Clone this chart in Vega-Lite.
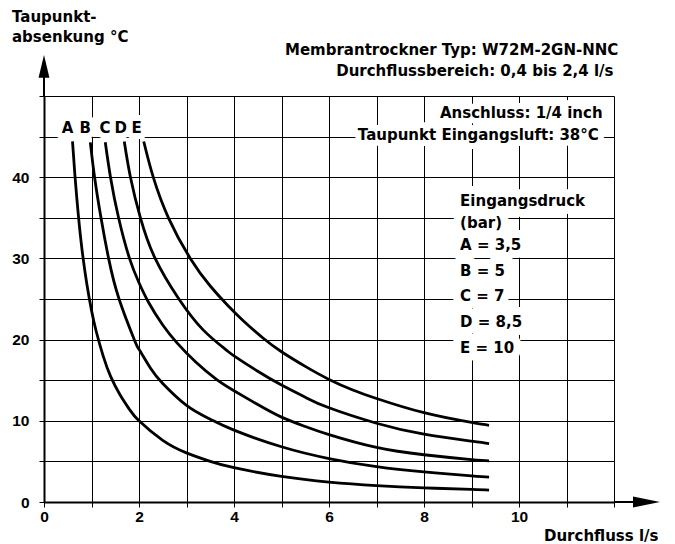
{
  "$schema": "https://vega.github.io/schema/vega-lite/v6.json",
  "width": 570,
  "height": 406,
  "autosize": {"type": "none"},
  "padding": {"left": 44, "top": 96, "right": 61, "bottom": 42},
  "background": "white",
  "config": {"view": {"stroke": null}},
  "datasets": {
    "curves": [
      {"curve": "A", "x": 0.6, "y": 44.4}, {"curve": "A", "x": 0.65, "y": 40.3}, {"curve": "A", "x": 0.72, "y": 35.5}, {"curve": "A", "x": 0.8, "y": 31.1}, {"curve": "A", "x": 0.9, "y": 26.9}, {"curve": "A", "x": 1.0, "y": 23.6}, {"curve": "A", "x": 1.1, "y": 21.0}, {"curve": "A", "x": 1.25, "y": 17.9}, {"curve": "A", "x": 1.4, "y": 15.5}, {"curve": "A", "x": 1.6, "y": 13.2}, {"curve": "A", "x": 1.8, "y": 11.4}, {"curve": "A", "x": 2.0, "y": 10.0}, {"curve": "A", "x": 2.5, "y": 7.6}, {"curve": "A", "x": 3.0, "y": 6.05}, {"curve": "A", "x": 3.5, "y": 5.0}, {"curve": "A", "x": 4.0, "y": 4.22}, {"curve": "A", "x": 5.0, "y": 3.15}, {"curve": "A", "x": 6.0, "y": 2.45}, {"curve": "A", "x": 7.0, "y": 2.02}, {"curve": "A", "x": 8.0, "y": 1.74}, {"curve": "A", "x": 9.0, "y": 1.55}, {"curve": "A", "x": 9.37, "y": 1.47},
      {"curve": "B", "x": 0.975, "y": 44.3}, {"curve": "B", "x": 1.065, "y": 40}, {"curve": "B", "x": 1.2, "y": 35}, {"curve": "B", "x": 1.36, "y": 30}, {"curve": "B", "x": 1.58, "y": 25}, {"curve": "B", "x": 1.9, "y": 20}, {"curve": "B", "x": 2.0, "y": 18.8}, {"curve": "B", "x": 2.25, "y": 16.4}, {"curve": "B", "x": 2.5, "y": 14.6}, {"curve": "B", "x": 3.0, "y": 11.9}, {"curve": "B", "x": 3.5, "y": 10.2}, {"curve": "B", "x": 4.0, "y": 8.85}, {"curve": "B", "x": 5.0, "y": 6.8}, {"curve": "B", "x": 6.0, "y": 5.35}, {"curve": "B", "x": 7.0, "y": 4.35}, {"curve": "B", "x": 8.0, "y": 3.7}, {"curve": "B", "x": 9.0, "y": 3.22}, {"curve": "B", "x": 9.37, "y": 3.07},
      {"curve": "C", "x": 1.29, "y": 44.3}, {"curve": "C", "x": 1.4, "y": 40}, {"curve": "C", "x": 1.57, "y": 35}, {"curve": "C", "x": 1.8, "y": 30}, {"curve": "C", "x": 2.0, "y": 27.0}, {"curve": "C", "x": 2.2, "y": 24.6}, {"curve": "C", "x": 2.5, "y": 21.8}, {"curve": "C", "x": 2.8, "y": 19.6}, {"curve": "C", "x": 3.2, "y": 17.2}, {"curve": "C", "x": 3.63, "y": 15.1}, {"curve": "C", "x": 4.0, "y": 13.7}, {"curve": "C", "x": 4.5, "y": 12.0}, {"curve": "C", "x": 5.0, "y": 10.45}, {"curve": "C", "x": 5.5, "y": 9.3}, {"curve": "C", "x": 6.0, "y": 8.3}, {"curve": "C", "x": 7.0, "y": 6.72}, {"curve": "C", "x": 8.0, "y": 5.82}, {"curve": "C", "x": 9.0, "y": 5.22}, {"curve": "C", "x": 9.37, "y": 5.06},
      {"curve": "D", "x": 1.69, "y": 44.4}, {"curve": "D", "x": 1.82, "y": 40}, {"curve": "D", "x": 2.03, "y": 35}, {"curve": "D", "x": 2.34, "y": 30}, {"curve": "D", "x": 2.84, "y": 25}, {"curve": "D", "x": 3.35, "y": 21.2}, {"curve": "D", "x": 3.82, "y": 18.8}, {"curve": "D", "x": 4.0, "y": 18.0}, {"curve": "D", "x": 4.5, "y": 16.1}, {"curve": "D", "x": 5.0, "y": 14.4}, {"curve": "D", "x": 5.5, "y": 12.9}, {"curve": "D", "x": 6.0, "y": 11.6}, {"curve": "D", "x": 7.0, "y": 9.7}, {"curve": "D", "x": 8.0, "y": 8.35}, {"curve": "D", "x": 9.0, "y": 7.5}, {"curve": "D", "x": 9.37, "y": 7.2},
      {"curve": "E", "x": 2.1, "y": 44.4}, {"curve": "E", "x": 2.3, "y": 40}, {"curve": "E", "x": 2.62, "y": 35}, {"curve": "E", "x": 3.08, "y": 30}, {"curve": "E", "x": 3.5, "y": 26.6}, {"curve": "E", "x": 3.87, "y": 24.2}, {"curve": "E", "x": 4.2, "y": 22.3}, {"curve": "E", "x": 4.61, "y": 20.2}, {"curve": "E", "x": 5.0, "y": 18.5}, {"curve": "E", "x": 5.5, "y": 16.7}, {"curve": "E", "x": 6.0, "y": 15.1}, {"curve": "E", "x": 6.5, "y": 13.8}, {"curve": "E", "x": 7.0, "y": 12.75}, {"curve": "E", "x": 8.0, "y": 11.0}, {"curve": "E", "x": 9.0, "y": 9.8}, {"curve": "E", "x": 9.37, "y": 9.45}
    ],
    "labels": [
      {"text": "A", "x": 0.495, "y": 45.4},
      {"text": "B", "x": 0.867, "y": 45.4},
      {"text": "C", "x": 1.284, "y": 45.4},
      {"text": "D", "x": 1.617, "y": 45.4},
      {"text": "E", "x": 1.952, "y": 45.4}
    ],
    "notes": [
      {"text": "Membrantrockner Typ: W72M-2GN-NNC", "x": 12.09, "y": 55.05},
      {"text": "Durchflussbereich: 0,4 bis 2,4 l/s", "x": 11.99, "y": 52.46},
      {"text": "Anschluss: 1/4 inch", "x": 11.76, "y": 47.25},
      {"text": "Taupunkt Eingangsluft: 38°C", "x": 11.68, "y": 44.64}
    ],
    "legend": [
      {"text": "Eingangsdruck", "x": 8.76, "y": 36.51},
      {"text": "(bar)", "x": 8.76, "y": 33.78},
      {"text": "A = 3,5", "x": 8.76, "y": 31.03},
      {"text": "B = 5", "x": 8.76, "y": 27.89},
      {"text": "C = 7", "x": 8.76, "y": 24.75},
      {"text": "D = 8,5", "x": 8.76, "y": 21.61},
      {"text": "E = 10", "x": 8.76, "y": 18.41}
    ]
  },
  "layer": [
    {
      "data": {"name": "curves"},
      "mark": {"type": "line", "interpolate": "natural", "color": "black", "strokeWidth": 2.8},
      "encoding": {
        "x": {
          "field": "x", "type": "quantitative",
          "scale": {"domain": [0, 12], "nice": false, "zero": false},
          "axis": {
            "values": [0, 1, 2, 3, 4, 5, 6, 7, 8, 9, 10, 11, 12],
            "labelExpr": "datum.value % 2 == 0 && datum.value < 12 ? datum.label : ''",
            "grid": true, "gridColor": "#000000", "gridWidth": 1, "gridOpacity": 1,
            "domainColor": "black", "domainWidth": 2,
            "tickColor": "black", "tickSize": 5, "tickWidth": 1,
            "labelFont": "Liberation Sans", "labelFontSize": 15.5, "labelFontWeight": 700, "labelColor": "black",
            "labelPadding": 2, "labelFlush": false, "labelOverlap": false,
            "title": "Durchfluss l/s", "titleFont": "DejaVu Sans", "titleFontSize": 15, "titleFontWeight": "bold", "titleColor": "black",
            "titleAlign": "right", "titleBaseline": "alphabetic", "titleX": 614, "titleY": 38, "titleAnchor": "end"
          }
        },
        "y": {
          "field": "y", "type": "quantitative",
          "scale": {"domain": [0, 50], "nice": false, "zero": false},
          "axis": {
            "values": [0, 5, 10, 15, 20, 25, 30, 35, 40, 45, 50],
            "labelExpr": "datum.value % 10 == 0 && datum.value < 50 ? datum.label : ''",
            "grid": true, "gridColor": "#000000", "gridWidth": 1, "gridOpacity": 1,
            "domainColor": "black", "domainWidth": 2,
            "tickColor": "black", "tickSize": 5, "tickWidth": 1,
            "labelFont": "Liberation Sans", "labelFontSize": 15.5, "labelFontWeight": 700, "labelColor": "black",
            "labelPadding": 10, "labelOverlap": false, "labelFlush": false,
            "title": ["Taupunkt-", "absenkung °C"], "titleFont": "DejaVu Sans", "titleFontSize": 15, "titleFontWeight": "bold", "titleColor": "black",
            "titleAngle": 0, "titleAlign": "left", "titleBaseline": "alphabetic", "titleX": -32.5, "titleY": -75, "titleLineHeight": 20, "titleAnchor": "start"
          }
        },
        "detail": {"field": "curve", "type": "nominal"}
      }
    },
    {
      "data": {"name": "labels"},
      "mark": {"type": "text", "align": "center", "baseline": "alphabetic", "font": "DejaVu Sans", "fontSize": 15, "fontWeight": "bold", "fill": "white", "stroke": "white", "strokeWidth": 12, "strokeJoin": "round"},
      "encoding": {
        "x": {"field": "x", "type": "quantitative", "scale": {"domain": [0, 12], "nice": false, "zero": false}},
        "y": {"field": "y", "type": "quantitative", "scale": {"domain": [0, 50], "nice": false, "zero": false}},
        "text": {"field": "text"}
      }
    },
    {
      "data": {"name": "notes"},
      "mark": {"type": "text", "align": "right", "baseline": "alphabetic", "font": "DejaVu Sans", "fontSize": 15, "fontWeight": "bold", "fill": "white", "stroke": "white", "strokeWidth": 12, "strokeJoin": "round"},
      "encoding": {
        "x": {"field": "x", "type": "quantitative", "scale": {"domain": [0, 12], "nice": false, "zero": false}},
        "y": {"field": "y", "type": "quantitative", "scale": {"domain": [0, 50], "nice": false, "zero": false}},
        "text": {"field": "text"}
      }
    },
    {
      "data": {"name": "legend"},
      "mark": {"type": "text", "align": "left", "baseline": "alphabetic", "font": "DejaVu Sans", "fontSize": 15, "fontWeight": "bold", "fill": "white", "stroke": "white", "strokeWidth": 16, "strokeJoin": "round"},
      "encoding": {
        "x": {"field": "x", "type": "quantitative", "scale": {"domain": [0, 12], "nice": false, "zero": false}},
        "y": {"field": "y", "type": "quantitative", "scale": {"domain": [0, 50], "nice": false, "zero": false}},
        "text": {"field": "text"}
      }
    },
    {
      "data": {"name": "labels"},
      "mark": {"type": "text", "align": "center", "baseline": "alphabetic", "font": "DejaVu Sans", "fontSize": 15, "fontWeight": "bold", "color": "black"},
      "encoding": {
        "x": {"field": "x", "type": "quantitative", "scale": {"domain": [0, 12], "nice": false, "zero": false}},
        "y": {"field": "y", "type": "quantitative", "scale": {"domain": [0, 50], "nice": false, "zero": false}},
        "text": {"field": "text"}
      }
    },
    {
      "data": {"name": "notes"},
      "mark": {"type": "text", "align": "right", "baseline": "alphabetic", "font": "DejaVu Sans", "fontSize": 15, "fontWeight": "bold", "color": "black"},
      "encoding": {
        "x": {"field": "x", "type": "quantitative", "scale": {"domain": [0, 12], "nice": false, "zero": false}},
        "y": {"field": "y", "type": "quantitative", "scale": {"domain": [0, 50], "nice": false, "zero": false}},
        "text": {"field": "text"}
      }
    },
    {
      "data": {"name": "legend"},
      "mark": {"type": "text", "align": "left", "baseline": "alphabetic", "font": "DejaVu Sans", "fontSize": 15, "fontWeight": "bold", "color": "black"},
      "encoding": {
        "x": {"field": "x", "type": "quantitative", "scale": {"domain": [0, 12], "nice": false, "zero": false}},
        "y": {"field": "y", "type": "quantitative", "scale": {"domain": [0, 50], "nice": false, "zero": false}},
        "text": {"field": "text"}
      }
    },
    {
      "data": {"values": [{}]},
      "mark": {"type": "rule", "color": "black", "strokeWidth": 2},
      "encoding": {
        "x": {"datum": 0, "type": "quantitative", "scale": {"domain": [0, 12], "nice": false, "zero": false}},
        "y": {"datum": 50, "type": "quantitative", "scale": {"domain": [0, 50], "nice": false, "zero": false}},
        "y2": {"datum": 52.5}
      }
    },
    {
      "data": {"values": [{}]},
      "mark": {"type": "rule", "color": "black", "strokeWidth": 2},
      "encoding": {
        "x": {"datum": 12, "type": "quantitative", "scale": {"domain": [0, 12], "nice": false, "zero": false}},
        "x2": {"datum": 12.4},
        "y": {"datum": 0, "type": "quantitative", "scale": {"domain": [0, 50], "nice": false, "zero": false}}
      }
    },
    {
      "data": {"values": [{}]},
      "mark": {"type": "point", "shape": "M0,-1L0.48,1L-0.48,1Z", "size": 515, "filled": true, "color": "black", "opacity": 1},
      "encoding": {
        "x": {"datum": 0, "type": "quantitative", "scale": {"domain": [0, 12], "nice": false, "zero": false}},
        "y": {"datum": 53.65, "type": "quantitative", "scale": {"domain": [0, 50], "nice": false, "zero": false}}
      }
    },
    {
      "data": {"values": [{}]},
      "mark": {"type": "point", "shape": "M1,0L-1,0.41L-1,-0.41Z", "size": 729, "filled": true, "color": "black", "opacity": 1},
      "encoding": {
        "x": {"datum": 12.684, "type": "quantitative", "scale": {"domain": [0, 12], "nice": false, "zero": false}},
        "y": {"datum": 0, "type": "quantitative", "scale": {"domain": [0, 50], "nice": false, "zero": false}}
      }
    }
  ]
}
